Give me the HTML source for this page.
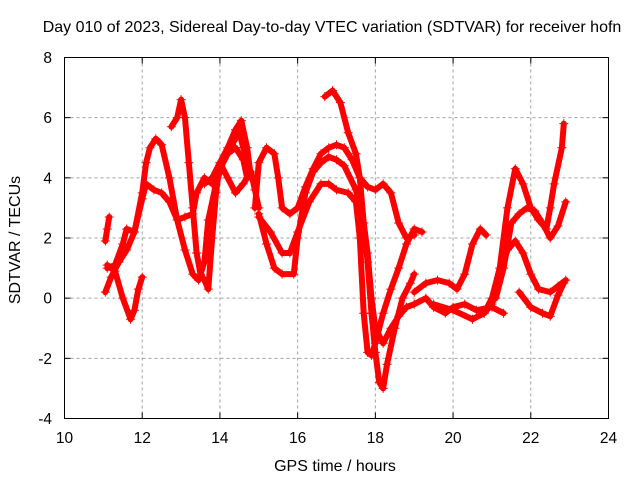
<!DOCTYPE html>
<html><head><meta charset="utf-8"><style>
body{margin:0;background:#fff}
svg text{font-family:"Liberation Sans",sans-serif;font-size:16px;fill:#000}
svg text.tick{font-size:15.5px}
</style></head><body>
<svg id="chart" width="640" height="480" xmlns="http://www.w3.org/2000/svg">
<text x="332" y="32" text-anchor="middle">Day 010 of 2023, Sidereal Day-to-day VTEC variation (SDTVAR) for receiver hofn</text>
<text transform="translate(20,240) rotate(-90)" text-anchor="middle">SDTVAR / TECUs</text>
<text x="335" y="471" text-anchor="middle">GPS time / hours</text>
<g id="grid"></g>
<g id="marks"></g>
<rect x="64.5" y="57.5" width="544" height="361" fill="none" stroke="#000" stroke-width="1"/>
<g id="ticks"></g>
</svg>
<script>
const xTicks=[10,12,14,16,18,20,22,24];
const yTicks=[-4,-2,0,2,4,6,8];
const t1x=[11.05,11.2,11.4,11.6,11.8,12.0,12.1,12.3,12.5,12.7,12.9,13.1,13.3,13.4,13.6,13.8,14.0,14.2,14.4,14.6,14.7];
const t1y=[0.2,0.7,1.2,1.6,2.2,3.3,3.8,3.6,3.5,3.2,2.6,2.7,2.8,3.5,4.0,3.8,4.3,4.8,5.0,4.6,4.0];
const t2x=[11.1,11.3,11.5,11.6,11.8,12.0,12.1,12.2,12.35,12.5,12.7,12.9,13.1,13.3,13.45,13.6,13.7,13.9,14.1,14.3,14.5,14.6,14.7];
const t2y=[1.0,1.1,1.8,2.3,2.2,3.5,4.5,5.0,5.3,5.1,4.0,2.6,1.6,0.8,0.6,1.2,2.6,3.8,4.6,5.1,5.5,5.0,4.6];
const t3x=[11.1,11.3,11.5,11.7,11.8,11.9,12.0];
const t3y=[1.1,0.9,0.0,-0.7,-0.4,0.3,0.7];
const t4x=[11.05,11.1,11.15];
const t4y=[1.9,2.3,2.7];
const t5x=[12.75,12.9,13.0,13.1,13.2,13.3,13.4,13.5,13.6,13.7,13.8,13.9,14.0,14.2,14.4,14.55,14.7,14.8];
const t5y=[5.7,6.0,6.6,6.0,4.5,3.0,1.5,0.8,0.6,0.3,2.0,3.5,4.5,5.0,5.6,5.9,5.0,4.0];
const t6x=[13.6,13.8,14.0,14.2,14.4,14.6,14.8,14.9,15.0];
const t6y=[3.8,4.0,4.5,4.0,3.5,3.8,4.2,3.6,3.0];
const t7x=[14.9,15.0,15.2,15.4,15.5,15.6,15.8,16.0,16.2,16.4,16.6,16.8,17.0,17.2,17.4,17.6,17.8,18.0,18.2,18.4,18.6,18.8,19.0];
const t7y=[3.0,4.5,5.0,4.8,4.0,3.0,2.8,3.0,3.7,4.3,4.8,5.0,5.1,5.0,4.6,4.0,3.7,3.6,3.8,3.5,2.5,2.0,2.1];
const t8x=[15.0,15.2,15.4,15.6,15.9,16.0,16.2,16.4,16.6,16.8,17.0,17.2,17.5,17.7,17.8,17.9,18.0,18.1,18.2,18.3,18.5,18.7,18.9,19.0];
const t8y=[2.8,1.8,1.0,0.8,0.8,2.0,3.5,4.2,4.5,4.7,4.6,4.4,3.6,2.5,1.2,-0.5,-1.8,-2.8,-3.0,-2.2,-1.0,0.0,0.5,0.8];
const t9x=[15.0,15.3,15.6,15.8,16.0,16.3,16.6,16.8,17.0,17.3,17.5,17.6,17.7,17.8,17.9,18.0,18.2,18.4,18.6,18.8,19.0,19.2];
const t9y=[2.7,2.2,1.5,1.5,2.2,3.2,3.8,3.8,3.6,3.5,3.2,2.0,-0.5,-1.8,-1.9,-1.5,-0.5,0.3,1.0,1.8,2.3,2.2];
const t10x=[16.7,16.9,17.1,17.3,17.5,17.6,17.7,17.8,17.9,18.0,18.2,18.4,18.6,18.8,19.0,19.3,19.5,19.8,20.0,20.3,20.6,21.0,21.3];
const t10y=[6.7,6.9,6.5,5.5,4.8,4.0,2.5,1.5,0.0,-1.0,-1.5,-1.0,-0.6,-0.3,-0.2,0.0,-0.3,-0.5,-0.3,-0.2,-0.4,-0.3,-0.5];
const t11x=[19.0,19.3,19.6,19.9,20.1,20.3,20.5,20.7,20.85];
const t11y=[0.2,0.5,0.6,0.5,0.3,0.8,1.8,2.3,2.1];
const t12x=[19.5,20.0,20.5,20.8,21.0,21.2,21.4,21.6,21.8,22.0,22.2,22.4,22.5,22.6,22.8,22.85];
const t12y=[-0.2,-0.4,-0.7,-0.5,0.0,1.0,3.0,4.3,3.8,3.0,2.6,2.3,3.0,3.8,5.0,5.8];
const t13x=[21.1,21.3,21.5,21.7,21.9,22.1,22.3,22.5,22.7,22.9];
const t13y=[0.0,1.0,2.5,2.8,3.0,2.9,2.5,2.0,2.4,3.2];
const t14x=[20.8,21.0,21.2,21.4,21.6,21.8,22.0,22.2,22.5,22.7,22.9];
const t14y=[-0.5,-0.2,0.8,1.6,1.9,1.5,0.8,0.3,0.2,0.4,0.6];
const t15x=[21.7,22.0,22.3,22.5,22.7,22.85];
const t15y=[0.2,-0.3,-0.5,-0.6,0.1,0.5];
const tracksX=[t1x,t2x,t3x,t4x,t5x,t6x,t7x,t8x,t9x,t10x,t11x,t12x,t13x,t14x,t15x];
const tracksY=[t1y,t2y,t3y,t4y,t5y,t6y,t7y,t8y,t9y,t10y,t11y,t12y,t13y,t14y,t15y];

const NS="http://www.w3.org/2000/svg";
const X0=64.5,X1=608.5,Y0=418.5,Y1=57.5;
function sx(v){return X0+(v-10)/14*(X1-X0);}
function sy(v){return Y0-(v+4)/12*(Y0-Y1);}
function mk(tag,attrs,parent){const e=document.createElementNS(NS,tag);for(const k in attrs)e.setAttribute(k,attrs[k]);parent.appendChild(e);return e;}
const grid=document.getElementById('grid'),ticks=document.getElementById('ticks'),marks=document.getElementById('marks');
xTicks.forEach(v=>{
  const x=sx(v);
  if(v>10&&v<24){const g=mk('line',{x1:x,x2:x,y1:Y1,y2:Y0,stroke:'#a0a0a0','stroke-dasharray':'3,3'},grid);
  
  }
  const t=mk('line',{x1:x,x2:x,y1:Y0,y2:Y0-6,stroke:'#000'},ticks);
  
  
  const t2=mk('line',{x1:x,x2:x,y1:Y1,y2:Y1+6,stroke:'#000'},ticks);
  
  
  const l=mk('text',{x:x,y:443,'text-anchor':'middle','class':'tick'},ticks);l.textContent=v;
  
  
});
yTicks.forEach(v=>{
  const y=sy(v);
  if(v>-4&&v<8){const g=mk('line',{x1:X0,x2:X1,y1:y,y2:y,stroke:'#a0a0a0','stroke-dasharray':'3,3'},grid);
  
  }
  const t=mk('line',{x1:X0,x2:X0+6,y1:y,y2:y,stroke:'#000'},ticks);
  
  
  const t2=mk('line',{x1:X1,x2:X1-6,y1:y,y2:y,stroke:'#000'},ticks);
  
  
  const l=mk('text',{x:52,y:y+5.5,'text-anchor':'end','class':'tick'},ticks);l.textContent=v;
  
  
});
tracksX.forEach((xs,i)=>{
  const ys=tracksY[i];
  const pts=xs.map((v,j)=>sx(v)+','+sy(ys[j])).join(' ');
  const pl=mk('polyline',{points:pts,fill:'none',stroke:'#f00','stroke-width':6,'stroke-linejoin':'round','stroke-linecap':'round'},marks);
  
  
  xs.forEach((v,j)=>{
    const x=sx(v),y=sy(ys[j]);
    const p=mk('path',{d:`M${x-4.5},${y}h9M${x},${y-4.5}v9`,stroke:'#f00','stroke-width':1},marks);
    
    
  });
});
</script>
</body></html>
